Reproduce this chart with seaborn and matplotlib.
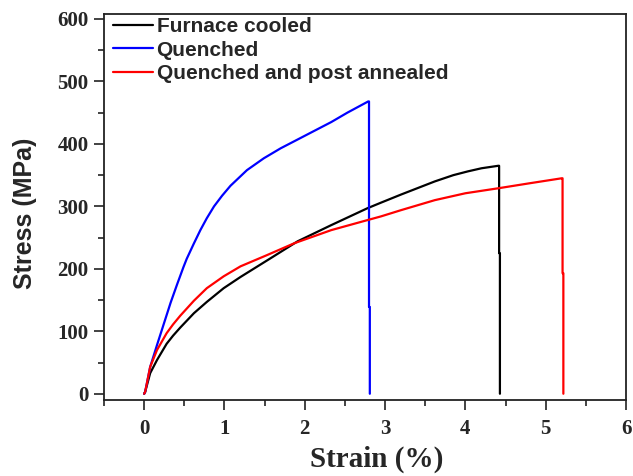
import numpy as np
import pandas as pd
import seaborn as sns
import matplotlib
matplotlib.use("Agg")
import matplotlib.pyplot as plt
from matplotlib.ticker import MultipleLocator

# Tensile curves: strain (%) and engineering stress (MPa)
furnace_strain = [0, 0.0125, 0.075, 0.16, 0.28, 0.36, 0.45, 0.62, 0.78, 0.99, 1.2, 1.575, 1.91,
                  2.33, 2.78, 2.95, 3.2, 3.62, 3.85, 4.03, 4.2, 4.41, 4.42, 4.42, 4.43, 4.43]
furnace_stress = [0, 3, 33, 54, 80, 93, 106, 129, 147, 169, 187, 217, 244,
                  270, 297, 306, 319, 340, 350, 356, 361, 365, 365, 225, 225, 0]

quenched_strain = [0, 0.0125, 0.075, 0.16, 0.24, 0.33, 0.41, 0.49, 0.53, 0.617, 0.7, 0.78, 0.87,
                   0.97, 1.075, 1.28, 1.49, 1.7, 1.91, 2.12, 2.33, 2.53, 2.79, 2.80, 2.80,
                   2.81, 2.81]
quenched_stress = [0, 3, 43, 78, 110, 146, 175, 203, 216, 240, 262, 281, 300,
                   317, 333, 358, 377, 393, 407, 421, 435, 450, 468, 468, 139,
                   139, 0]

annealed_strain = [0, 0.0125, 0.075, 0.16, 0.28, 0.36, 0.45, 0.62, 0.78, 0.99, 1.2, 1.53, 1.87,
                   2.33, 2.78, 2.95, 3.2, 3.62, 4.0, 4.41, 4.8, 5.2, 5.21, 5.21, 5.22, 5.22]
annealed_stress = [0, 3, 43, 70, 97, 111, 125, 149, 169, 188, 204, 222, 241,
                   262, 278, 284, 294, 310, 321, 329, 337, 345, 345, 193, 193, 0]

labels = ["Furnace cooled", "Quenched", "Quenched and post annealed"]
colors = ["#000000", "#0000ff", "#ff0000"]

frames = []
for name, xs, ys in zip(labels,
                        [furnace_strain, quenched_strain, annealed_strain],
                        [furnace_stress, quenched_stress, annealed_stress]):
    frames.append(pd.DataFrame({"strain": xs, "stress": ys, "sample": name,
                                "order": np.arange(len(xs))}))
df = pd.concat(frames, ignore_index=True)

sns.set_style("white")
plt.rcParams["font.family"] = ["Liberation Sans", "DejaVu Sans"]

fig = plt.figure(figsize=(6.33, 4.76), dpi=100)
ax = fig.add_axes([104 / 633, 1 - 400 / 476, 522 / 633, 386 / 476])

sns.lineplot(data=df, x="strain", y="stress", hue="sample", units="sample",
             estimator=None, sort=False, palette=dict(zip(labels, colors)),
             hue_order=labels, linewidth=1.6, ax=ax)
for ln in ax.get_lines():
    ln.set_solid_joinstyle("round")

ax.set_xlim(-0.5, 6)
ax.set_ylim(-10, 608)
ax.xaxis.set_major_locator(MultipleLocator(1))
ax.xaxis.set_minor_locator(MultipleLocator(0.5))
ax.yaxis.set_major_locator(MultipleLocator(100))
ax.yaxis.set_minor_locator(MultipleLocator(50))
ax.set_xticks(range(0, 7))

ax.tick_params(axis="both", which="major", direction="out", length=7, width=1.2,
               color="#222222", bottom=True, left=True, top=False, right=False)
ax.tick_params(axis="both", which="minor", direction="out", length=4, width=1.2,
               color="#222222", bottom=True, left=True, top=False, right=False)
ax.tick_params(axis="x", which="major", pad=7)
ax.tick_params(axis="y", which="major", pad=4)

for lab in ax.get_xticklabels() + ax.get_yticklabels():
    lab.set_fontfamily("Liberation Serif")
    lab.set_fontweight("bold")
    lab.set_fontsize(15)

for sp in ax.spines.values():
    sp.set_visible(True)
    sp.set_linewidth(1.3)
    sp.set_color("#222222")

ax.set_ylabel("Stress (MPa)", fontsize=18, fontweight="bold",
              fontfamily="Liberation Sans")
ax.yaxis.set_label_coords(-0.128, 0.484)
ax.set_xlabel("Strain (%)", fontsize=21, fontweight="bold",
              fontfamily="Liberation Serif")
ax.xaxis.set_label_coords(0.523, -0.118)

leg = ax.legend(loc="upper left", bbox_to_anchor=(0.017, 0.992), frameon=False,
                borderaxespad=0, borderpad=0, handlelength=1.95,
                handletextpad=0.15, labelspacing=0.22,
                prop={"family": "Liberation Sans", "weight": "bold", "size": 15})
for h in leg.get_lines():
    h.set_linewidth(1.6)

fig.savefig("out.png", dpi=100)
